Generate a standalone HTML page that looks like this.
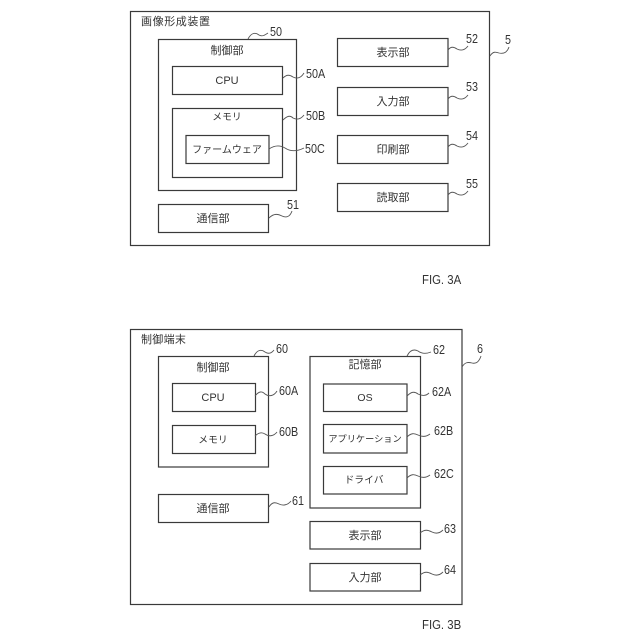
<!DOCTYPE html>
<html><head><meta charset="utf-8"><style>
html,body{margin:0;padding:0;background:#fff;width:640px;height:640px;overflow:hidden}
svg{display:block}
rect{fill:none;stroke:#3a3a3a;stroke-width:1.2}
path{fill:none;stroke:#555;stroke-width:.9}
text{font-family:"Liberation Sans","Noto Sans CJK JP",sans-serif;font-size:11px;fill:#333}
.c{text-anchor:middle}
.n{font-size:13px;transform-box:fill-box;transform-origin:left center;transform:scaleX(.83)}
.f{font-size:13px;transform-box:fill-box;transform-origin:left center;transform:scaleX(.875)}
.k{font-size:9.800px}
</style></head><body>
<svg width="640" height="640" viewBox="0 0 640 640" xmlns="http://www.w3.org/2000/svg">
<!-- FIG 3A -->
<rect x="130.5" y="11.5" width="359" height="234"/>
<text x="141" y="25" style="letter-spacing:.6px">画像形成装置</text>
<rect x="158.5" y="39.5" width="138" height="151"/>
<text class="c" x="227" y="54">制御部</text>
<rect x="172.5" y="66.5" width="110" height="28"/>
<text class="c" x="227" y="84">CPU</text>
<rect x="172.5" y="108.5" width="110" height="69"/>
<text class="c k" x="227" y="120">メモリ</text>
<rect x="186" y="135.5" width="83" height="28"/>
<text class="c" x="227" y="153" style="font-size:10px">ファームウェア</text>
<rect x="158.5" y="204.5" width="110" height="28"/>
<text class="c" x="213" y="222">通信部</text>
<rect x="337.5" y="38.5" width="110.500" height="28"/>
<text class="c" x="393" y="56">表示部</text>
<rect x="337.5" y="87.5" width="110.500" height="28"/>
<text class="c" x="393" y="105">入力部</text>
<rect x="337.5" y="135.5" width="110.500" height="28"/>
<text class="c" x="393" y="153">印刷部</text>
<rect x="337.5" y="183.5" width="110.500" height="28"/>
<text class="c" x="393" y="201">読取部</text>
<path d="M248 39C251 33 255 32 259 35C262 37 265 35 268 33"/>
<text class="n" x="270" y="36">50</text>
<path d="M283 78C287 74 290 75 293 77C297 79 301 78 304 73"/>
<text class="n" x="306" y="78">50A</text>
<path d="M283 120C287 116 290 115 293 118C297 120 301 119 304 115"/>
<text class="n" x="306" y="120">50B</text>
<path d="M269 149C275 145 280 145 285 148C291 152 298 151 304 148"/>
<text class="n" x="305" y="153">50C</text>
<path d="M269 218C274 213 278 214 282 216C286 218 290 217 292 211"/>
<text class="n" x="287" y="209">51</text>
<path d="M448 50C451 46 454 47 457 49C461 51 465 50 468 46"/>
<text class="n" x="466" y="43">52</text>
<path d="M448 99C451 95 454 96 457 98C461 100 465 99 468 95"/>
<text class="n" x="466" y="91">53</text>
<path d="M448 147C451 143 454 144 457 146C461 148 465 147 468 143"/>
<text class="n" x="466" y="140">54</text>
<path d="M448 195C451 191 454 192 457 194C461 196 465 195 468 191"/>
<text class="n" x="466" y="188">55</text>
<path d="M490 56C493 51 496 52 499 53C503 54 507 53 509 47"/>
<text class="n" x="505" y="44">5</text>
<text class="f" x="422" y="284">FIG. 3A</text>
<!-- FIG 3B -->
<rect x="130.5" y="329.5" width="331.500" height="275"/>
<text x="141" y="343" style="letter-spacing:.3px">制御端末</text>
<rect x="158.5" y="356.5" width="110" height="110.500"/>
<text class="c" x="213" y="371">制御部</text>
<rect x="172.5" y="383.5" width="83" height="28"/>
<text class="c" x="213" y="401">CPU</text>
<rect x="172.5" y="425.5" width="83" height="28"/>
<text class="c k" x="213" y="443">メモリ</text>
<rect x="158.5" y="494.5" width="110" height="28"/>
<text class="c" x="213" y="512">通信部</text>
<rect x="310" y="356.500" width="110.500" height="151.500"/>
<text class="c" x="365" y="368">記憶部</text>
<rect x="323.5" y="384" width="83.500" height="27.500"/>
<text class="c" x="365" y="401" style="font-size:10.500px">OS</text>
<rect x="323.5" y="424.500" width="83.500" height="28.500"/>
<text class="c" x="365" y="442" style="font-size:9.200px">アプリケーション</text>
<rect x="323.5" y="466.500" width="83.500" height="27.500"/>
<text class="c k" x="364" y="483">ドライバ</text>
<rect x="310" y="521.500" width="110.500" height="27.500"/>
<text class="c" x="365" y="539">表示部</text>
<rect x="310" y="563.500" width="110.500" height="27.500"/>
<text class="c" x="365" y="581">入力部</text>
<path d="M254 356C257 350 261 349 265 352C268 354 271 354 274 350"/>
<text class="n" x="276" y="353">60</text>
<path d="M255 396C259 391 262 391 265 394C269 397 274 396 277 391"/>
<text class="n" x="279" y="395">60A</text>
<path d="M255 436C259 432 262 432 265 434C269 437 274 436 277 432"/>
<text class="n" x="279" y="436">60B</text>
<path d="M269 507C272 502 275 502 279 504C283 506 288 505 291 501"/>
<text class="n" x="292" y="505">61</text>
<path d="M407 356C410 350 414 349 418 351C422 354 426 354 431 352"/>
<text class="n" x="433" y="354">62</text>
<path d="M407 396C411 392 414 391 418 394C422 396 426 396 429 393"/>
<text class="n" x="432" y="396">62A</text>
<path d="M407 437C411 433 414 433 418 435C422 437 426 437 430 434"/>
<text class="n" x="434" y="435">62B</text>
<path d="M407 478C411 474 414 474 418 476C422 478 426 478 430 475"/>
<text class="n" x="434" y="478">62C</text>
<path d="M420 533C425 529 428 530 432 532C436 534 440 533 443 530"/>
<text class="n" x="444" y="533">63</text>
<path d="M420 575C425 571 428 572 432 574C436 576 440 575 443 572"/>
<text class="n" x="444" y="574">64</text>
<path d="M462 367C465 362 468 362 472 363C476 364 479 362 481 356"/>
<text class="n" x="477" y="353">6</text>
<text class="f" x="422" y="629">FIG. 3B</text>
</svg>
</body></html>
